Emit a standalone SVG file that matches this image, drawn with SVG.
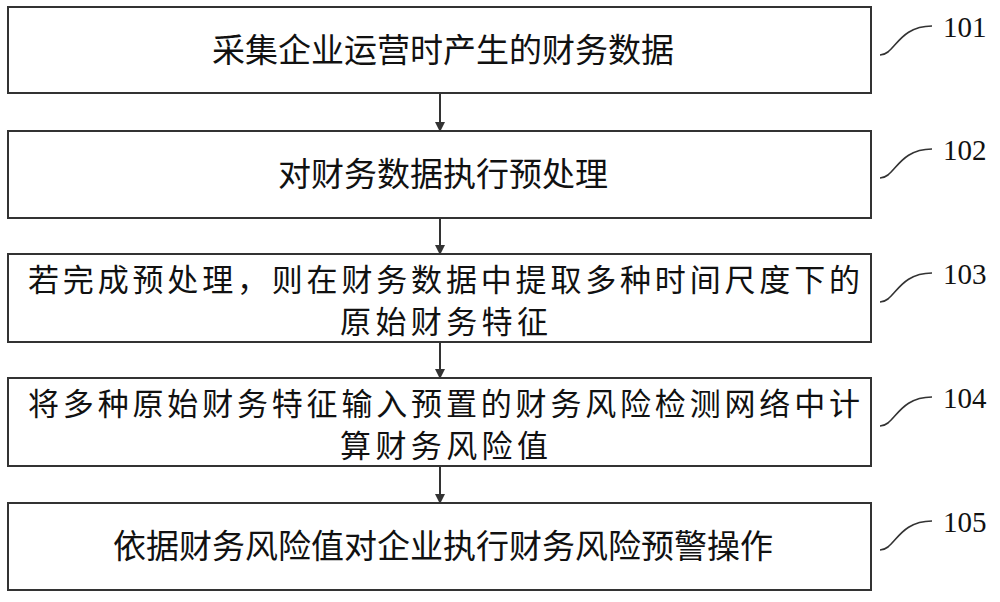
<svg xmlns="http://www.w3.org/2000/svg" width="1000" height="602" viewBox="0 0 1000 602">
<style>
.box{fill:#fff;stroke:#333;stroke-width:2}
.t{font-family:"Noto Sans CJK SC",serif;font-size:33px;fill:#111}
.t2{font-family:"Noto Sans CJK SC",serif;font-size:31px;fill:#111}
.n{font-family:"Liberation Serif",serif;font-size:29px;fill:#111}
.c{fill:none;stroke:#333;stroke-width:1.6}
.a{stroke:#333;stroke-width:2}
</style>
<defs><marker id="ah" markerWidth="10" markerHeight="10" refX="8" refY="5" orient="auto" markerUnits="userSpaceOnUse"><path d="M0,0L10,5L0,10z" fill="#333"/></marker></defs>
<rect width="1000" height="602" fill="#fff"/>
<g id="n1"><rect class="box" x="8" y="7" width="863" height="86"/><text class="t" x="443" y="62" text-anchor="middle">采集企业运营时产生的财务数据</text></g>
<g id="n2"><rect class="box" x="8" y="131" width="863" height="87"/><text class="t" x="443" y="186" text-anchor="middle">对财务数据执行预处理</text></g>
<g id="n3"><rect class="box" x="8" y="254" width="863" height="88"/><text class="t2" x="28" y="291" textLength="832">若完成预处理，则在财务数据中提取多种时间尺度下的</text><text class="t2" x="340" y="333" textLength="208">原始财务特征</text></g>
<g id="n4"><rect class="box" x="8" y="378" width="863" height="88"/><text class="t2" x="28" y="415" textLength="832">将多种原始财务特征输入预置的财务风险检测网络中计</text><text class="t2" x="340" y="457" textLength="208">算财务风险值</text></g>
<g id="n5"><rect class="box" x="8" y="503" width="863" height="87"/><text class="t" x="443" y="558" text-anchor="middle">依据财务风险值对企业执行财务风险预警操作</text></g>
<g id="labels">
<path class="c" d="M880,55 C895,55 898,26 932,26"/><text class="n" x="943" y="37">101</text>
<path class="c" d="M880,178 C895,178 898,149 932,149"/><text class="n" x="943" y="160">102</text>
<path class="c" d="M880,302 C895,302 898,273 932,273"/><text class="n" x="943" y="284">103</text>
<path class="c" d="M880,426 C895,426 898,397 932,397"/><text class="n" x="943" y="408">104</text>
<path class="c" d="M880,550 C895,550 898,521 932,521"/><text class="n" x="943" y="532">105</text>
</g>
<g id="connectors">
<line class="a" x1="440" y1="93" x2="440" y2="130" marker-end="url(#ah)"/>
<line class="a" x1="440" y1="218" x2="440" y2="253" marker-end="url(#ah)"/>
<line class="a" x1="440" y1="342" x2="440" y2="377" marker-end="url(#ah)"/>
<line class="a" x1="440" y1="466" x2="440" y2="502" marker-end="url(#ah)"/>
</g>
</svg>
